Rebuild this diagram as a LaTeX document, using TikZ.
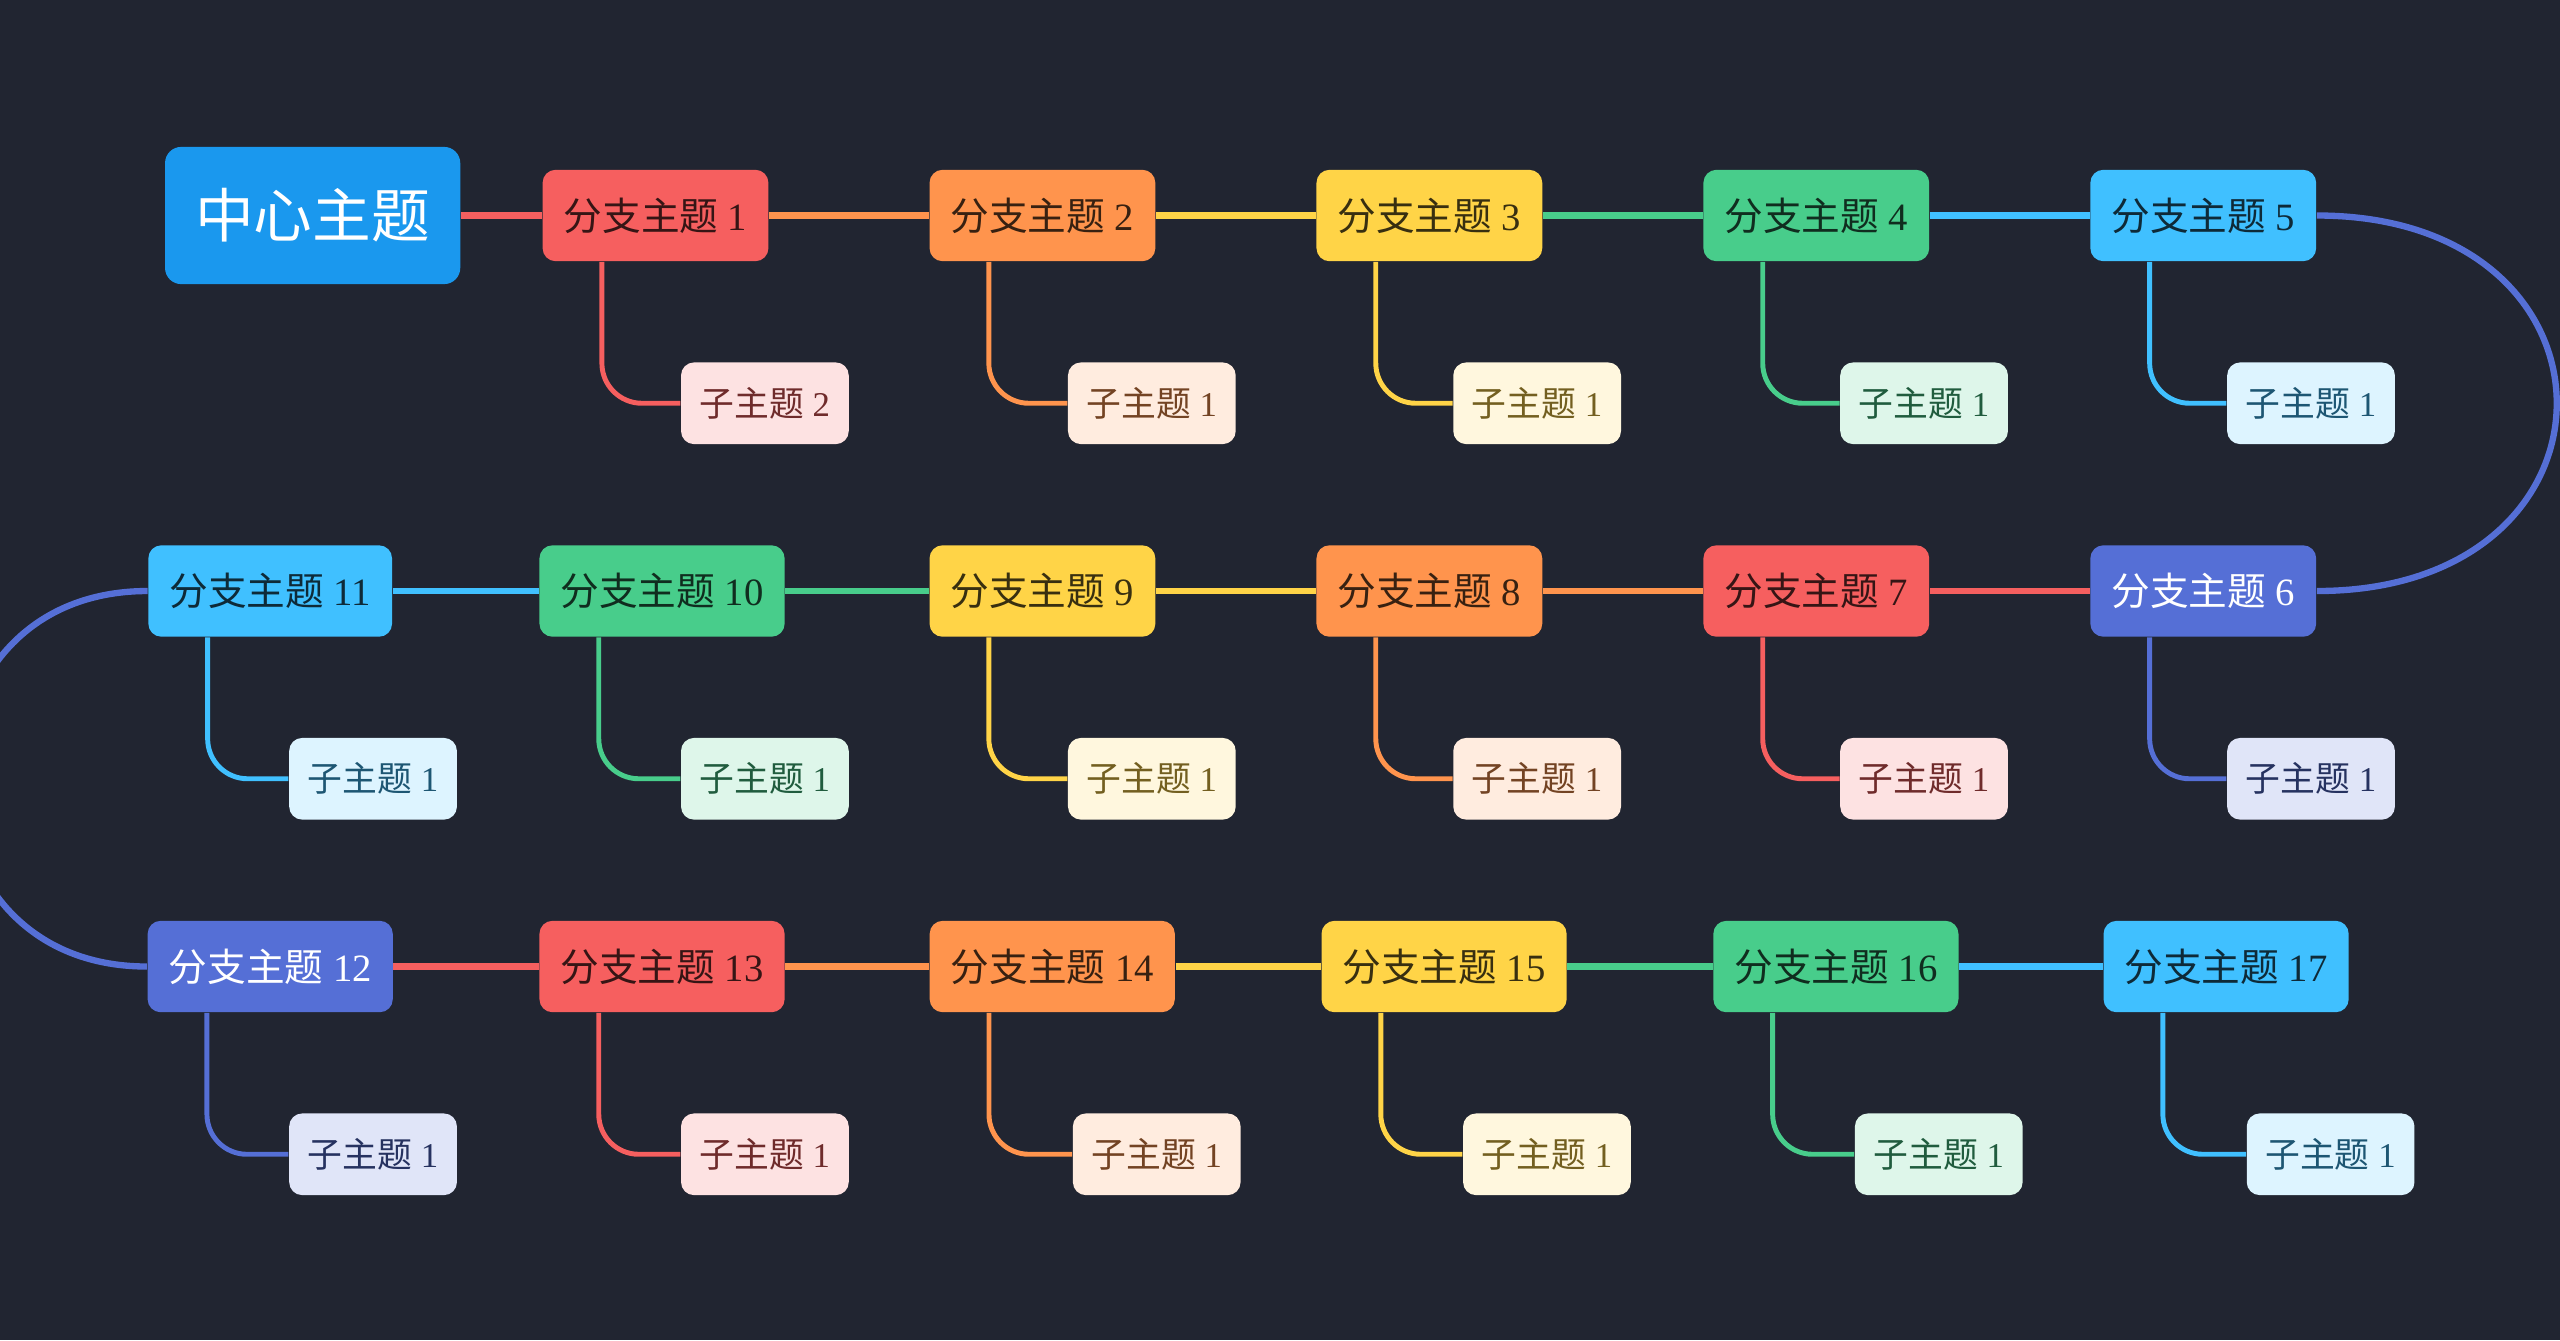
\documentclass[tikz,border=0pt]{standalone}
\usepackage{fontspec}
\setmainfont{Liberation Serif}
\newfontfamily\cjk{Noto Sans CJK SC}
\usepackage{tikz}
\usetikzlibrary{positioning, calc}
\definecolor{MapBg}{HTML}{212531}
\definecolor{MapBlue}{HTML}{1A98EE}
\definecolor{MapRed}{HTML}{F65F5F}
\definecolor{MapOrange}{HTML}{FF944D}
\definecolor{MapYellow}{HTML}{FFD447}
\definecolor{MapGreen}{HTML}{48CD8B}
\definecolor{MapSky}{HTML}{40C0FF}
\definecolor{MapIndigo}{HTML}{556FD6}
\newcommand{\fz}[1]{{\cjk 分支主题}~#1}
\newcommand{\zt}[1]{{\cjk 子主题}~#1}

\begin{document}
\begin{tikzpicture}[x=0.01633cm, y=-0.01633cm,
          root/.style={rectangle, rounded corners=4.6pt, minimum height=1.372cm,
                       inner xsep=8.6pt, fill=MapBlue, text=white,
                       font=\fontsize{16.7}{19}\selectfont\cjk},
          br/.style={rectangle, rounded corners=3.7pt, minimum height=0.914cm,
                     inner xsep=6pt, fill=#1, text=#1!22!black,
                     font=\fontsize{11}{13}\selectfont},
          lf/.style={rectangle, rounded corners=3.7pt, minimum height=0.817cm,
                     inner xsep=5.3pt, fill=#1!18, text=#1!45!black,
                     font=\fontsize{9.9}{11}\selectfont},
          link/.style={line width=1.8pt},
          twig/.style={line width=1.4pt, rounded corners=0.4cm}
        ]
        \fill[MapBg] (0,0) rectangle (1568,821);
        \useasboundingbox (0,0) rectangle (1568,821);

        \node[root] (c) at (191.5,132) {中心主题};

        % first row
        \node[br=MapRed]    (b1) at (401.5,132)  {\fz{1}};
        \node[br=MapOrange] (b2) at (638.5,132)  {\fz{2}};
        \node[br=MapYellow] (b3) at (875.5,132)  {\fz{3}};
        \node[br=MapGreen]  (b4) at (1112.5,132) {\fz{4}};
        \node[br=MapSky]    (b5) at (1349.5,132) {\fz{5}};
        \node[lf=MapRed]    (s1) at (468.5,247)  {\zt{2}};
        \node[lf=MapOrange] (s2) at (705.5,247)  {\zt{1}};
        \node[lf=MapYellow] (s3) at (941.5,247)  {\zt{1}};
        \node[lf=MapGreen]  (s4) at (1178.5,247) {\zt{1}};
        \node[lf=MapSky]    (s5) at (1415.5,247) {\zt{1}};

        % second row
        \node[br=MapIndigo, text=white] (b6) at (1349.5,362) {\fz{6}};
        \node[br=MapRed]    (b7)  at (1112.5,362) {\fz{7}};
        \node[br=MapOrange] (b8)  at (875.5,362)  {\fz{8}};
        \node[br=MapYellow] (b9)  at (638.5,362)  {\fz{9}};
        \node[br=MapGreen]  (b10) at (405.5,362)  {\fz{10}};
        \node[br=MapSky]    (b11) at (165.5,362)  {\fz{11}};
        \node[lf=MapIndigo] (s6)  at (1415.5,477) {\zt{1}};
        \node[lf=MapRed]    (s7)  at (1178.5,477) {\zt{1}};
        \node[lf=MapOrange] (s8)  at (941.5,477)  {\zt{1}};
        \node[lf=MapYellow] (s9)  at (705.5,477)  {\zt{1}};
        \node[lf=MapGreen]  (s10) at (468.5,477)  {\zt{1}};
        \node[lf=MapSky]    (s11) at (228.5,477)  {\zt{1}};

        % third row
        \node[br=MapIndigo, text=white] (b12) at (165.5,592) {\fz{12}};
        \node[br=MapRed]    (b13) at (405.5,592)  {\fz{13}};
        \node[br=MapOrange] (b14) at (644.5,592)  {\fz{14}};
        \node[br=MapYellow] (b15) at (884.5,592)  {\fz{15}};
        \node[br=MapGreen]  (b16) at (1124.5,592) {\fz{16}};
        \node[br=MapSky]    (b17) at (1363.5,592) {\fz{17}};
        \node[lf=MapIndigo] (s12) at (228.5,707)  {\zt{1}};
        \node[lf=MapRed]    (s13) at (468.5,707)  {\zt{1}};
        \node[lf=MapOrange] (s14) at (708.5,707)  {\zt{1}};
        \node[lf=MapYellow] (s15) at (947.5,707)  {\zt{1}};
        \node[lf=MapGreen]  (s16) at (1187.5,707) {\zt{1}};
        \node[lf=MapSky]    (s17) at (1427.5,707) {\zt{1}};

        % main chain
        \draw[link, MapRed]    (c) -- (b1);
        \draw[link, MapOrange] (b1) -- (b2);
        \draw[link, MapYellow] (b2) -- (b3);
        \draw[link, MapGreen]  (b3) -- (b4);
        \draw[link, MapSky]    (b4) -- (b5);
        \draw[link, MapIndigo] (b5.east) .. controls (1615,132) and (1615,362) .. (b6.east);
        \draw[link, MapRed]    (b6) -- (b7);
        \draw[link, MapOrange] (b7) -- (b8);
        \draw[link, MapYellow] (b8) -- (b9);
        \draw[link, MapGreen]  (b9) -- (b10);
        \draw[link, MapSky]    (b10) -- (b11);
        \draw[link, MapIndigo] (b11.west) .. controls (-63,362) and (-63,592) .. (b12.west);
        \draw[link, MapRed]    (b12) -- (b13);
        \draw[link, MapOrange] (b13) -- (b14);
        \draw[link, MapYellow] (b14) -- (b15);
        \draw[link, MapGreen]  (b15) -- (b16);
        \draw[link, MapSky]    (b16) -- (b17);

        % sub topics
        \draw[twig, MapRed]    ([xshift=0.6cm]b1.south west)  |- (s1.west);
        \draw[twig, MapOrange] ([xshift=0.6cm]b2.south west)  |- (s2.west);
        \draw[twig, MapYellow] ([xshift=0.6cm]b3.south west)  |- (s3.west);
        \draw[twig, MapGreen]  ([xshift=0.6cm]b4.south west)  |- (s4.west);
        \draw[twig, MapSky]    ([xshift=0.6cm]b5.south west)  |- (s5.west);
        \draw[twig, MapIndigo] ([xshift=0.6cm]b6.south west)  |- (s6.west);
        \draw[twig, MapRed]    ([xshift=0.6cm]b7.south west)  |- (s7.west);
        \draw[twig, MapOrange] ([xshift=0.6cm]b8.south west)  |- (s8.west);
        \draw[twig, MapYellow] ([xshift=0.6cm]b9.south west)  |- (s9.west);
        \draw[twig, MapGreen]  ([xshift=0.6cm]b10.south west) |- (s10.west);
        \draw[twig, MapSky]    ([xshift=0.6cm]b11.south west) |- (s11.west);
        \draw[twig, MapIndigo] ([xshift=0.6cm]b12.south west) |- (s12.west);
        \draw[twig, MapRed]    ([xshift=0.6cm]b13.south west) |- (s13.west);
        \draw[twig, MapOrange] ([xshift=0.6cm]b14.south west) |- (s14.west);
        \draw[twig, MapYellow] ([xshift=0.6cm]b15.south west) |- (s15.west);
        \draw[twig, MapGreen]  ([xshift=0.6cm]b16.south west) |- (s16.west);
        \draw[twig, MapSky]    ([xshift=0.6cm]b17.south west) |- (s17.west);
      \end{tikzpicture}
\end{document}
